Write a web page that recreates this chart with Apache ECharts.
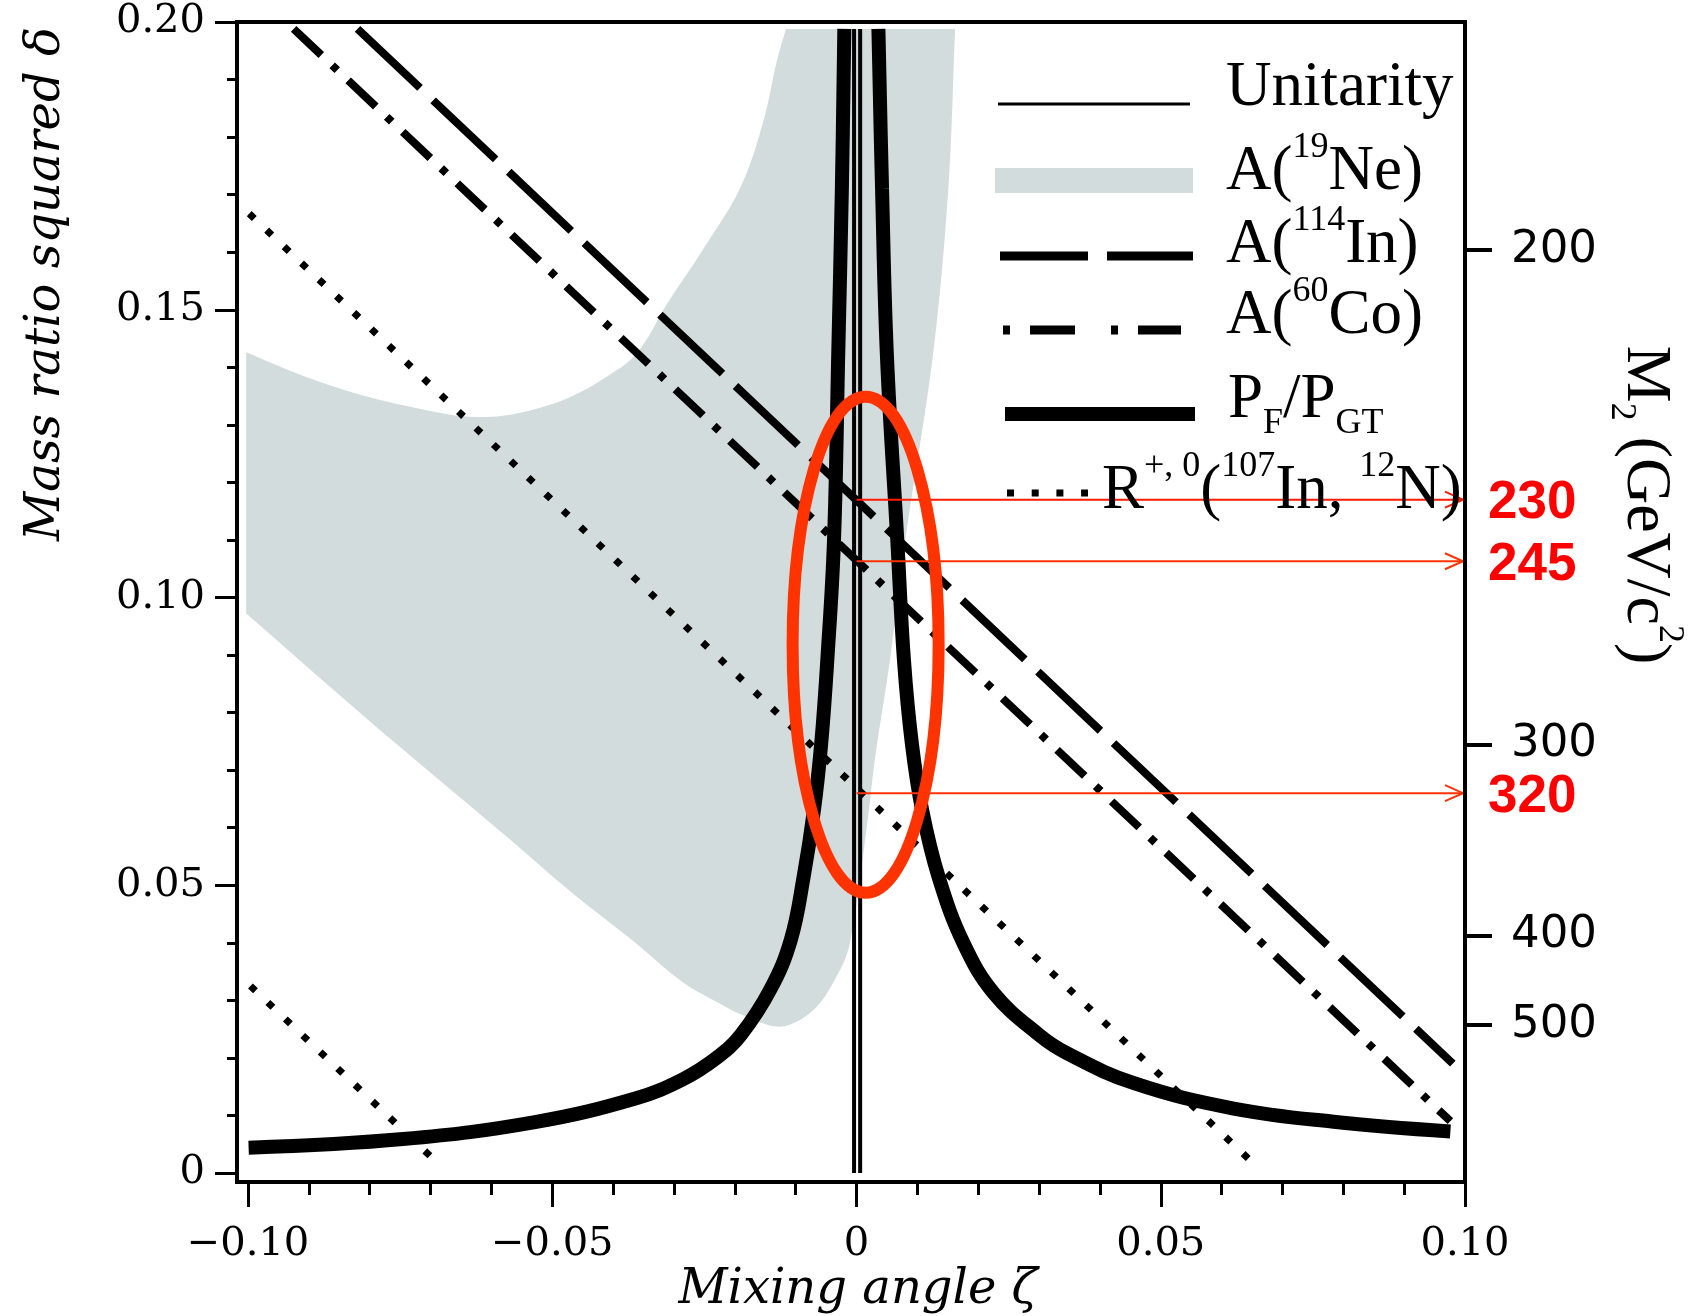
<!DOCTYPE html>
<html>
<head>
<meta charset="utf-8">
<title>Mixing angle vs mass ratio squared</title>
<script src="https://cdn.jsdelivr.net/npm/echarts@6/dist/echarts.min.js"></script>
<style>
  html, body { margin: 0; padding: 0; background: #fff; }
  #chart { width: 1695px; height: 1316px; }
</style>
</head>
<body>
<div id="chart"></div>
<script>
// values: [zeta, delta]
const unitarityZeta = [-0.0004, 0.0006];
const unitarityDelta = [0, 0.1988];

// A(19Ne) allowed band: upper-left edge (left to right), then right/lower edge (top to left)
const ne19Upper = [
  [-0.1003, 0.1426], [-0.0909, 0.1385], [-0.0800, 0.1348], [-0.0690, 0.1322],
  [-0.0635, 0.1314], [-0.0581, 0.1316], [-0.0526, 0.1328], [-0.0471, 0.1348],
  [-0.0416, 0.1380], [-0.0362, 0.1423], [-0.0308, 0.1516], [-0.0257, 0.1597],
  [-0.0191, 0.1712], [-0.0153, 0.1828], [-0.0131, 0.1932], [-0.0116, 0.1988]
];
const ne19Lower = [
  [0.0162, 0.1988], [0.0151, 0.1712], [0.0126, 0.1424], [0.0080, 0.1099],
  [0.0055, 0.0891], [0.0030, 0.0717], [0.0017, 0.0601], [-0.0011, 0.0399],
  [-0.0033, 0.0341], [-0.0071, 0.0283], [-0.0126, 0.0254], [-0.0180, 0.0271],
  [-0.0235, 0.0300], [-0.0290, 0.0335], [-0.0362, 0.0399], [-0.0472, 0.0491],
  [-0.0581, 0.0590], [-0.0801, 0.0786], [-0.1003, 0.0972]
];

const in114Line = [[-0.0820, 0.1988], [0.0980, 0.0190]];
const co60Line = [[-0.0925, 0.1988], [0.0976, 0.0090]];
const rUpper = [[-0.0998, 0.1667], [0.0653, 0.0016]];
const rLower = [[-0.0996, 0.0325], [-0.0684, 0.0013]];

// PF/PGT curve, two branches
const pfLeft = [
  [-0.0999, 0.0044], [-0.0745, 0.0059], [-0.0526, 0.0089], [-0.0362, 0.0130],
  [-0.0285, 0.0163], [-0.0230, 0.0200], [-0.0190, 0.0240], [-0.0141, 0.0320],
  [-0.0108, 0.0405], [-0.0087, 0.0514], [-0.0070, 0.0630], [-0.0058, 0.0746],
  [-0.0048, 0.0891], [-0.0037, 0.1099], [-0.0030, 0.1424], [-0.0024, 0.1712],
  [-0.0020, 0.1988]
];
const pfRight = [
  [0.0036, 0.1988], [0.0042, 0.1710], [0.0050, 0.1420], [0.0067, 0.1100],
  [0.0078, 0.0891], [0.0091, 0.0746], [0.0108, 0.0630], [0.0135, 0.0514],
  [0.0176, 0.0399], [0.0226, 0.0312], [0.0300, 0.0240], [0.0346, 0.0208],
  [0.0456, 0.0156], [0.0620, 0.0112], [0.0784, 0.0089], [0.0976, 0.0072]
];

// right axis: M2 (GeV/c^2) and the delta where each tick sits
const m2Ticks = [200, 300, 400, 500];
const m2TickDelta = [0.1604, 0.0745, 0.0413, 0.0257];

// arrows at zeta = 0 and their M2 labels
const arrowDelta = [0.1170, 0.1063, 0.0660];
const arrowLabels = ['230', '245', '320'];
const arrowColors = ['#ff1a00', '#ff3300', '#ff3300'];

// red ellipse: centre zeta, centre delta, half width, half height
const ellipse = [0.0015, 0.0918, 0.0120, 0.0431];

const GRAY = '#d3dcdd';
const SERIF = '"DejaVu Serif"';
const TIMES = '"Liberation Serif"';

const chart = echarts.init(document.getElementById('chart'));

const tickFmt = (v) => {
  if (Math.abs(v) < 1e-9) return '0';
  return (v < 0 ? '\u2212' : '') + Math.abs(v).toFixed(2);
};
const m2Fmt = (v) => {
  let best = 0;
  m2TickDelta.forEach((d, i) => {
    if (Math.abs(d - v) < Math.abs(m2TickDelta[best] - v)) best = i;
  });
  return String(m2Ticks[best]);
};

const tick = { color: '#000', width: 3 };

const lineSeries = (data, width, type, z) => ({
  type: 'line',
  data,
  showSymbol: false,
  symbol: 'none',
  silent: true,
  animation: false,
  z: z || 3,
  lineStyle: { color: '#000', width, type: type || 'solid', cap: 'butt' }
});

// keep the band's corners sharp when the outline is smoothed
const withCorners = (pts) => [pts[0]].concat(pts, [pts[pts.length - 1]]);

// legend text styles (super/subscripts through rich text)
const legendRich = {
  n: { fontFamily: TIMES, fontSize: 63, lineHeight: 84, color: '#000' },
  s: { fontFamily: TIMES, fontSize: 36, lineHeight: 36, verticalAlign: 'top', color: '#000' },
  b: { fontFamily: TIMES, fontSize: 36, lineHeight: 36, verticalAlign: 'bottom', color: '#000' }
};
const legendText = (text, x, y) => ({
  type: 'text', x, y, z: 20,
  style: { text, rich: legendRich, align: 'left', verticalAlign: 'middle' }
});

chart.setOption({
  animation: false,
  backgroundColor: '#fff',
  grid: { left: 248, right: 230, top: 22, bottom: 143, outerBoundsMode: 'none' },
  xAxis: {
    type: 'value', min: -0.1, max: 0.1, interval: 0.05, offset: 9,
    axisLine: { show: false, onZero: false },
    axisTick: { length: 25, lineStyle: tick },
    minorTick: { show: true, splitNumber: 5, length: 13, lineStyle: tick },
    splitLine: { show: false },
    axisLabel: { margin: 43, fontFamily: SERIF, fontSize: 40, color: '#000', formatter: tickFmt }
  },
  yAxis: [
    {
      type: 'value', min: 0, max: 0.2, interval: 0.05, offset: 11, position: 'left',
      axisLine: { show: false, onZero: false },
      axisTick: { length: 22, lineStyle: tick },
      minorTick: { show: true, splitNumber: 5, length: 10, lineStyle: tick },
      splitLine: { show: false },
      axisLabel: { margin: 32, fontFamily: SERIF, fontSize: 40, color: '#000', formatter: tickFmt }
    },
    {
      type: 'value', min: 0, max: 0.2, position: 'right',
      axisLine: { show: false, onZero: false },
      axisTick: { length: 27, lineStyle: { color: '#000', width: 4 }, customValues: m2TickDelta },
      splitLine: { show: false },
      axisLabel: {
        margin: 46, customValues: m2TickDelta, formatter: m2Fmt,
        fontFamily: '"DejaVu Sans"', fontSize: 45, color: '#000'
      }
    }
  ],
  series: [
    // A(19Ne) band
    {
      type: 'custom', silent: true, z: 1, data: [[0, 0]],
      renderItem: (params, api) => {
        const pts = withCorners(ne19Upper).concat(withCorners(ne19Lower)).map((p) => api.coord(p));
        const xs = pts.map((p) => p[0]);
        const ys = pts.map((p) => p[1]);
        const box = [[Math.min(...xs), Math.min(...ys)], [Math.max(...xs), Math.max(...ys)]];
        return {
          type: 'polygon',
          shape: { points: pts, smooth: 0.35, smoothConstraint: box },
          style: { fill: GRAY }
        };
      }
    },
    // unitarity: thin double line at zeta ~ 0
    lineSeries(unitarityDelta.map((d) => [unitarityZeta[0], d]), 4, 'solid', 2),
    lineSeries(unitarityDelta.map((d) => [unitarityZeta[1], d]), 4, 'solid', 2),
    lineSeries(in114Line, 8, [86, 18]),
    lineSeries(co60Line, 8, [38, 15, 7, 15]),
    lineSeries(rUpper, 7, [7, 17]),
    lineSeries(rLower, 7, [7, 17]),
    Object.assign(lineSeries(pfLeft, 14, 'solid', 4), { smooth: 0.4 }),
    Object.assign(lineSeries(pfRight, 14, 'solid', 4), { smooth: 0.4 }),
    // arrows from zeta = 0 to the M2 axis
    {
      type: 'custom', silent: true, z: 6,
      data: arrowDelta.map((d) => [0, d]),
      renderItem: (params, api) => {
        const i = params.dataIndex;
        const p0 = api.coord([0, arrowDelta[i]]);
        const p1 = api.coord([0.1, arrowDelta[i]]);
        const c = arrowColors[i];
        return {
          type: 'group',
          children: [
            { type: 'line', shape: { x1: p0[0], y1: p0[1], x2: p1[0] - 2, y2: p1[1] },
              style: { stroke: c, lineWidth: 2 } },
            { type: 'polyline',
              shape: { points: [[p1[0] - 20, p1[1] - 8], [p1[0] - 2, p1[1]], [p1[0] - 20, p1[1] + 8]] },
              style: { stroke: c, lineWidth: 2, fill: 'none' } },
            { type: 'text', x: p1[0] + 23, y: p1[1] + 4,
              style: { text: arrowLabels[i], fill: '#ff0000', fontFamily: '"Liberation Sans"',
                fontWeight: 'bold', fontSize: 53, align: 'left', verticalAlign: 'middle' } }
          ]
        };
      }
    },
    // red ellipse around the crossings
    {
      type: 'custom', silent: true, z: 7, data: [[ellipse[0], ellipse[1]]],
      renderItem: (params, api) => {
        const c = api.coord([ellipse[0], ellipse[1]]);
        const s = api.size([ellipse[2], ellipse[3]]);
        return {
          type: 'ellipse',
          shape: { cx: c[0], cy: c[1], rx: s[0], ry: s[1] },
          style: { fill: 'none', stroke: '#ff3300', lineWidth: 12 }
        };
      }
    }
  ],
  graphic: [
    // plot frame
    { type: 'rect', z: 10, shape: { x: 237, y: 22, width: 1228, height: 1160 },
      style: { fill: 'none', stroke: '#000', lineWidth: 4 } },
    // axis titles
    { type: 'text', x: 47, y: 284, rotation: Math.PI / 2, z: 20,
      style: { text: 'Mass ratio squared \u03b4', font: 'italic 48px ' + SERIF, fill: '#000',
        align: 'center', verticalAlign: 'middle' } },
    { type: 'text', x: 858, y: 1291, z: 20,
      style: { text: 'Mixing angle \u03b6', font: 'italic 48px ' + SERIF, fill: '#000',
        align: 'center', verticalAlign: 'middle' } },
    { type: 'text', x: 1645, y: 505, rotation: -Math.PI / 2, z: 20,
      style: {
        text: '{m|M}{b|2}{m| (GeV/c}{s|2}{m|)}',
        align: 'center', verticalAlign: 'middle',
        rich: {
          m: { fontFamily: TIMES, fontSize: 64, lineHeight: 84, color: '#000' },
          s: { fontFamily: TIMES, fontSize: 36, lineHeight: 36, verticalAlign: 'top', color: '#000' },
          b: { fontFamily: TIMES, fontSize: 36, lineHeight: 36, verticalAlign: 'bottom', color: '#000' }
        }
      } },
    // legend samples
    { type: 'line', z: 20, shape: { x1: 998, y1: 104, x2: 1190, y2: 104 },
      style: { stroke: '#000', lineWidth: 3 } },
    { type: 'rect', z: 20, shape: { x: 995, y: 168, width: 198, height: 25 },
      style: { fill: GRAY } },
    { type: 'line', z: 20, shape: { x1: 1000, y1: 256, x2: 1193, y2: 256 },
      style: { stroke: '#000', lineWidth: 9, lineDash: [88, 19] } },
    { type: 'line', z: 20, shape: { x1: 1003, y1: 330, x2: 1181, y2: 330 },
      style: { stroke: '#000', lineWidth: 9, lineDash: [7, 20, 45, 36] } },
    { type: 'line', z: 20, shape: { x1: 1005, y1: 414, x2: 1195, y2: 414 },
      style: { stroke: '#000', lineWidth: 14 } },
    { type: 'line', z: 20, shape: { x1: 1007, y1: 493, x2: 1088, y2: 493 },
      style: { stroke: '#000', lineWidth: 7, lineDash: [7, 17.7] } },
    legendText('{n|Unitarity}', 1226, 88),
    legendText('{n|A(}{s|19}{n|Ne)}', 1226, 172),
    legendText('{n|A(}{s|114}{n|In)}', 1226, 245),
    legendText('{n|A(}{s|60}{n|Co)}', 1226, 316),
    legendText('{n|P}{b|F}{n|/P}{b|GT}', 1228, 400),
    legendText('{n|R}{s|+, 0}{n|(}{s|107}{n|In, }{s|12}{n|N)}', 1102, 491)
  ]
});

window.addEventListener('resize', () => chart.resize());
</script>
</body>
</html>
